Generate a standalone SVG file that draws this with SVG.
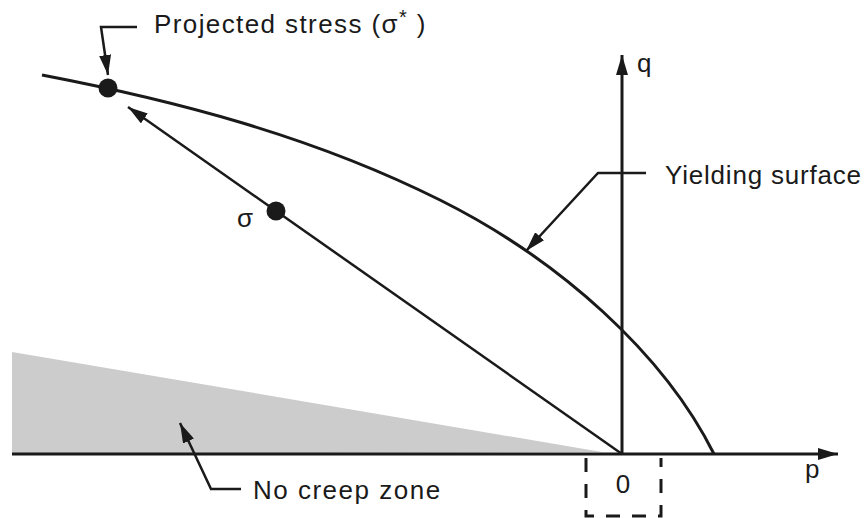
<svg xmlns="http://www.w3.org/2000/svg" width="866" height="518" viewBox="0 0 866 518">
<style>
.t{font-family:"Liberation Sans",Arial,sans-serif;font-size:26px;fill:#1a1a1a}
.ln{stroke:#1a1a1a;fill:none}
</style>
<defs>
<marker id="ah" viewBox="0 0 20 12" refX="20" refY="6" markerWidth="20" markerHeight="12" markerUnits="userSpaceOnUse" orient="auto">
<path d="M0,0 L20,6 L0,12 Z" fill="#1a1a1a"/>
</marker>
</defs>
<rect width="866" height="518" fill="#fff"/>
<g id="nocreep"><polygon points="12,352 12,454 602,452" fill="#cccccc"/></g>
<g id="axes">
<line class="ln" x1="12" y1="454" x2="838" y2="454" stroke-width="3" marker-end="url(#ah)"/>
<line class="ln" x1="622" y1="454" x2="622" y2="55" stroke-width="3" marker-end="url(#ah)"/>
<text class="t" x="637" y="72">q</text>
<text class="t" x="805" y="478">p</text>
</g>
<g id="yield"><path class="ln" stroke-width="3" d="M42,75 C172,100 310,135 440,200 C560,260 664,354 714,454"/></g>
<g id="origin">
<path class="ln" stroke-width="3" stroke-dasharray="14,12" d="M586,458 V516 H661 V458"/>
<text class="t" x="623" y="493" text-anchor="middle">0</text>
</g>
<g id="connectors">
<line class="ln" x1="622" y1="454" x2="128" y2="107" stroke-width="2.5" marker-end="url(#ah)"/>
<polyline class="ln" stroke-width="2.5" points="137,27 101,27 108,75" marker-end="url(#ah)"/>
<polyline class="ln" stroke-width="2.5" points="646,173 598,173 526,251" marker-end="url(#ah)"/>
<polyline class="ln" stroke-width="2.5" points="241,489 211,489 180,423" marker-end="url(#ah)"/>
</g>
<g id="sigmastar"><circle cx="108" cy="88" r="9.5" fill="#1a1a1a"/>
<text class="t" x="154" y="33" letter-spacing="1.4">Projected stress (σ<tspan dy="-9" font-size="20">*</tspan><tspan dy="9"> )</tspan></text></g>
<g id="sigma"><circle cx="276" cy="211" r="9.5" fill="#1a1a1a"/>
<text class="t" x="237" y="227" font-size="24">σ</text></g>
<g id="yieldlabel"><text class="t" x="665" y="184" letter-spacing="0.8">Yielding surface</text></g>
<g id="nocreeplabel"><text class="t" x="253" y="499" letter-spacing="1.5">No creep zone</text></g>
</svg>
